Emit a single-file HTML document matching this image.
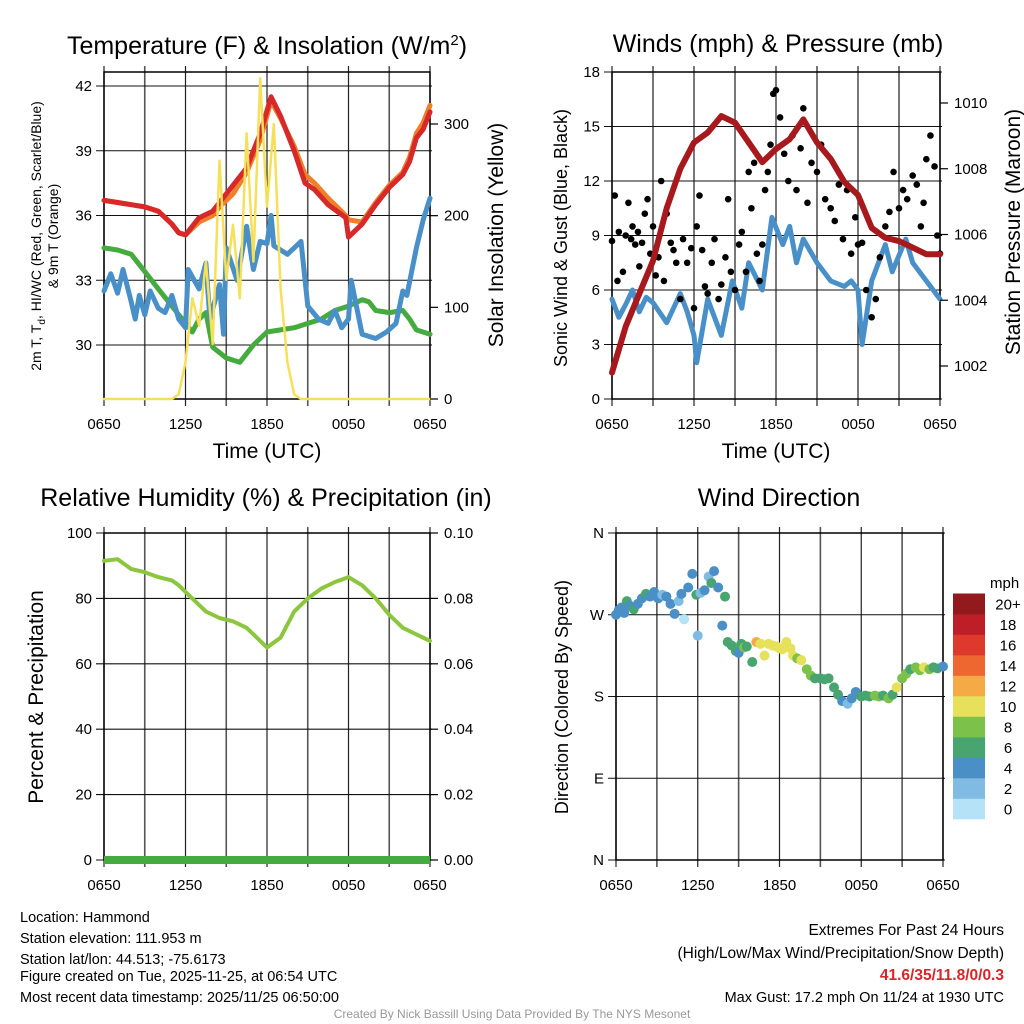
<!DOCTYPE html>
<html><head><meta charset="utf-8"><style>
body{margin:0;background:#fff}
svg{display:block;font-family:"Liberation Sans",sans-serif}
</style></head><body>
<svg id="s" width="1024" height="1024" viewBox="0 0 1024 1024">
<g id="g1"></g>
<g id="g2"></g>
<g id="g3"></g>
<g id="g4"></g>
<g id="txt">
<text x="20" y="922" font-size="14.5">Location: Hammond</text>
<text x="20" y="943" font-size="14.5">Station elevation: 111.953 m</text>
<text x="20" y="964" font-size="14.5">Station lat/lon: 44.513; -75.6173</text>
<text x="20" y="981" font-size="14.5">Figure created on Tue, 2025-11-25, at 06:54 UTC</text>
<text x="20" y="1002" font-size="14.5">Most recent data timestamp: 2025/11/25 06:50:00</text>
<text x="1004" y="935" font-size="15.5" text-anchor="end">Extremes For Past 24 Hours</text>
<text x="1004" y="958" font-size="15.5" text-anchor="end">(High/Low/Max Wind/Precipitation/Snow Depth)</text>
<text x="1004" y="980" font-size="15.5" text-anchor="end" fill="#d8262a" font-weight="bold">41.6/35/11.8/0/0.3</text>
<text x="1004" y="1002" font-size="14.5" text-anchor="end">Max Gust: 17.2 mph On 11/24 at 1930 UTC</text>
<text x="512" y="1018" font-size="12" text-anchor="middle" fill="#999">Created By Nick Bassill Using Data Provided By The NYS Mesonet</text>
</g>
</svg>
<script>
// ---- data (hours after 0650) ----
const xLabels=["0650","1250","1850","0050","0650"];
const tempRed=[36.7,36.6,36.5,36.4,36.2,35.6,35.2,35.1,35.9,36.2,36.6,37.4,38.2,39.8,41.5,40.6,39.0,37.5,37.2,36.5,35.9,35.0,35.6,36.5,37.3,37.9,38.5,39.6,40.0,40.8];
const tempOrange=[36.7,36.6,36.5,36.4,36.2,35.6,35.2,35.1,35.7,36.0,36.4,37.0,38.0,39.5,41.3,40.5,39.2,37.9,37.5,36.8,36.0,35.8,35.7,36.6,37.4,38.0,38.7,39.8,40.3,41.1];
const tempTimes=[0,1,2,3,4,5,5.5,6,7,8,8.5,9.5,10.5,11.5,12.3,13,14,14.8,15.5,16.5,17.8,18,19,20,21,22,22.5,23,23.5,24];
const heatIdx=[32.5,33.3,32.4,33.5,32.0,31.2,32.3,31.4,32.5,31.7,31.5,32.3,31.2,30.8,33.5,32.6,33.8,31.2,32.8,30.5,34.5,33.0,35.5,33.5,34.8,34.7,36.0,34.6,34.2,34.8,31.8,31.2,31.0,31.6,30.8,31.2,33.0,30.5,30.3,30.6,31.0,32.5,32.3,34.5,35.8,36.8];
const heatTimes=[0,0.5,1,1.4,2,2.3,2.6,3,3.4,4,4.5,5,5.5,6,6.2,7,7.5,7.8,8.5,8.8,9,9.8,10.5,11,11.5,12,12.3,12.5,13.5,14.5,15,15.8,16.5,17,17.5,18,18.2,19,20,20.8,21.5,22,22.3,23,23.5,24];
const dewGreen=[34.5,34.4,34.2,33.4,32.6,31.8,31.0,30.6,31.2,31.5,29.9,29.4,29.2,30.0,30.6,30.7,30.8,31.0,31.2,31.6,31.8,32.1,32.0,31.6,31.5,31.6,31.2,30.7,30.5];
const dewTimes=[0,1,2,3,4,5,6,6.5,7,7.5,8,9,10,11,12,13,14,15,16,17,18,19,19.5,20,21,22,22.5,23,24];
const insol=[0,0,0,0,0,0,0,0,0,0,0,5,40,110,80,150,60,260,130,190,110,290,150,350,210,300,120,40,5,0,0,0,0,0,0,0,0,0,0,0,0,0,0,0,0,0,0,0,0];
const windSpd=[5.5,4.5,5.2,6.0,4.8,5.6,5.3,4.2,5.0,5.8,4.8,3.5,2.0,5.5,4.5,3.5,6.5,5.0,7.5,6.0,10.0,8.5,9.5,7.5,8.8,7.5,6.5,6.2,6.5,6.0,3.0,6.5,8.5,7.0,8.8,7.5,6.5,5.5];
const windTimes=[0,0.5,1,1.5,2,2.5,3,4,4.5,5,5.5,6,6.2,7,7.5,8,8.8,9.5,10,11,11.7,12.5,13,13.5,14,15,16,17,17.5,18,18.3,19,20,20.5,21.5,22,23,24];
const gustT=[0,0.2,0.4,0.5,0.8,1,1.2,1.4,1.5,1.7,1.9,2,2.2,2.4,2.6,2.8,3,3.2,3.4,3.6,3.8,4,4.3,4.5,4.7,5,5.2,5.5,5.8,6,6.2,6.4,6.6,6.8,7,7.3,7.5,7.8,8,8.3,8.5,8.7,9,9.3,9.5,9.8,10,10.2,10.4,10.6,10.8,11,11.2,11.4,11.6,11.8,12,12.3,12.6,12.9,13.2,13.5,13.8,14,14.3,14.6,15,15.3,15.6,16,16.3,16.6,16.9,17.2,17.5,17.8,18,18.3,18.6,19,19.3,19.6,20,20.3,20.6,21,21.3,21.6,22,22.3,22.6,22.8,23,23.3,23.6,23.8,24];
const gustV=[8.7,11.2,6.5,9.2,7.0,9.0,10.8,8.8,9.5,8.5,9.2,7.3,8.6,10.2,11.0,8.0,9.5,6.8,7.8,12.0,6.5,10.2,8.6,8.2,7.5,5.5,8.8,7.5,8.3,5.0,9.5,11.2,8.2,6.2,5.8,7.5,8.8,5.5,6.3,7.8,11.0,7.0,6.0,8.5,9.2,7.0,12.5,10.5,13.0,8.0,6.5,8.5,11.5,12.5,14.0,16.8,17.0,15.5,13.5,12.0,14.5,11.5,13.8,16.0,10.8,13.0,12.5,14.0,11.0,10.5,9.8,11.8,8.8,11.5,8.0,10.0,8.5,8.6,6.0,4.5,5.5,7.8,9.5,10.3,12.5,10.5,11.5,11.0,12.3,11.8,9.5,10.8,13.2,14.5,12.8,9.0,8.0];
const presTimes=[0,1,2,3,4,5,6,7,8,9,10,11,12,13,14,15,16,17,18,19,20,21,22,23,24];
const pressure=[1001.8,1003.2,1004.2,1005.2,1006.8,1008.0,1008.8,1009.1,1009.6,1009.4,1008.8,1008.2,1008.6,1008.9,1009.5,1008.8,1008.3,1007.6,1007.2,1006.2,1005.9,1005.8,1005.6,1005.4,1005.4];
const rh=[91.5,92,89,88,86.5,85.5,84,80,76,74,73,71,67,65,68,76,80,83,85,86.5,84,80,75,71,69,67];
const rhTimes=[0,1,2,3,4,5,5.5,6.5,7.5,8.5,9.5,10.5,11.5,12,13,14,15,16,17,18,19,20,21,22,23,24];
const dirT=[0,0.2,0.4,0.6,0.8,1,1.3,1.6,1.9,2.2,2.5,2.8,3.1,3.4,3.7,4,4.3,4.6,4.8,5,5.3,5.6,5.9,6,6.2,6.5,6.8,7,7.2,7.5,7.8,8,8.2,8.5,8.8,9,9.2,9.4,9.6,10,10.3,10.6,10.9,11.2,11.5,11.8,12,12.2,12.5,12.8,13,13.3,13.6,14,14.3,14.6,15,15.3,15.6,16,16.3,16.6,17,17.3,17.6,18,18.3,18.6,19,19.3,19.6,20,20.3,20.6,21,21.3,21.6,22,22.3,22.6,23,23.3,23.6,24];
const dirD=[270,275,278,272,285,280,276,282,288,293,290,295,288,292,290,282,271,285,293,265,300,315,292,247,294,297,312,305,318,300,258,290,240,236,230,228,238,234,235,218,240,238,225,238,236,235,233,232,240,233,225,222,220,210,203,200,200,199,200,190,182,175,172,178,185,180,181,180,181,180,181,178,182,190,200,205,210,212,209,212,210,212,211,213,210];
const dirS=[4,4,4,4,6,4,6,4,4,6,4,4,4,2,4,4,4,2,4,1,4,4,6,3,2,4,3,6,4,4,4,6,6,7,7,4,6,8,7,7,12,10,10,10,10,10,10,10,10,11,10,8,10,8,8,7,6,7,6,6,6,4,2,4,4,6,6,7,8,8,7,8,7,10,8,8,6,8,9,10,8,6,6,4,6];
const spdBins=["0","2","4","6","8","10","12","14","16","18","20+"];
const spdColors=["#b5e2f6","#80bbe4","#4a8fc6","#48a56f","#7cc24a","#e6e05a","#f6aa46","#ee6630","#dd3a2d","#be1e27","#921a1c"];

// ---- helpers ----
const NS="http://www.w3.org/2000/svg";
function mk(p,tag,at,txt){const e=document.createElementNS(NS,tag);for(const k in at)e.setAttribute(k,at[k]);if(txt!=null)e.textContent=txt;p.appendChild(e);return e;}
function xs(x0,x1){return h=>x0+(x1-x0)*h/24;}
function lin(v0,v1,p0,p1){return v=>p0+(v-v0)*(p1-p0)/(v1-v0);}
function frame(g,x0,x1,y0,y1,yVals,ys,labs,name){
  for(let i=0;i<=8;i++){const x=x0+(x1-x0)*i/8;
    const l=mk(g,'line',{x1:x,x2:x,y1:y0-6,y2:y1+7,stroke:i%2?'#555':'#222','stroke-width':i%2?1.6:1.2});
    }
  yVals.forEach((v,i)=>{const y=ys(v);
    const l=mk(g,'line',{x1:x0-8,x2:x1+2,y1:y,y2:y,stroke:'#111','stroke-width':1.1});
    
    const t=mk(g,'text',{x:x0-12,y:y+5,'font-size':15,'text-anchor':'end'},labs[i]);
    });
  const r=mk(g,'rect',{x:x0,y:y0,width:x1-x0,height:y1-y0,fill:'none',stroke:'#000','stroke-width':1.5});
  
  xLabels.forEach((s,i)=>{const t=mk(g,'text',{x:x0+(x1-x0)*i/4,y:y1+30,'font-size':15,'text-anchor':'middle'},s);
    });
}
function line(g,T,V,xf,yf,col,w,name){
  const d=T.map((t,i)=>(i?'L':'M')+xf(t).toFixed(1)+','+yf(V[i]).toFixed(1)).join('');
  const p=mk(g,'path',{d:d,fill:'none',stroke:col,'stroke-width':w,'stroke-linejoin':'round','stroke-linecap':'round'});
  
}
function rtick(g,x,ys,vals,labs){vals.forEach((v,i)=>{const y=ys(v);
  mk(g,'line',{x1:x,x2:x+8,y1:y,y2:y,stroke:'#000','stroke-width':1.2});
  const t=mk(g,'text',{x:x+14,y:y+5,'font-size':15},labs[i]);
  });}
function title(g,x,y,txt,fs,rot,name){const t=mk(g,'text',{x:x,y:y,'font-size':fs,'text-anchor':'middle',transform:rot?`rotate(-90 ${x} ${y})`:''},null);t.innerHTML=txt;
  return t;}

// ---- panel 1 ----
{const g=document.getElementById('g1');const X=xs(104,430);const Y=lin(30,42,345,86);const Yr=lin(0,300,399,124);
frame(g,104,430,72,399,[30,33,36,39,42],Y,["30","33","36","39","42"],'temperature');
line(g,dewTimes,dewGreen,X,Y,'#45ab3f',5,'dewpoint-line');
line(g,heatTimes,heatIdx,X,Y,'#4a90c8',5,'windchill-line');
line(g,tempTimes,tempOrange,X,Y,'#f07f2a',5,'temp-9m-line');
line(g,tempTimes,tempRed,X,Y,'#d7282a',5,'temp-2m-line');
line(g,insol.map((v,i)=>i/2),insol,X,Yr,'#f6e05a',2.5,'insolation-line');
rtick(g,430,Yr,[0,100,200,300],["0","100","200","300"]);
title(g,267,54,'Temperature (F) &amp; Insolation (W/m<tspan dy="-9" font-size="15">2</tspan><tspan dy="9">)</tspan>',25,0,'temperature-title');
title(g,267,458,'Time (UTC)',21,0,'x-axis-title');
title(g,41,236,'2m T, T<tspan dy="4" font-size="10">d</tspan><tspan dy="-4">, HI/WC (Red, Green, Scarlet/Blue)</tspan>',14,1,'y-axis-title');
title(g,58,236,'&amp; 9m T (Orange)',14,1,'y-axis-title-2');
title(g,503,235,'Solar Insolation (Yellow)',21,1,'right-axis-title');}

// ---- panel 2 ----
{const g=document.getElementById('g2');const X=xs(612,940);const Y=lin(0,18,399,72);const Yr=lin(1002,1010,366,103);
frame(g,612,940,72,399,[0,3,6,9,12,15,18],Y,["0","3","6","9","12","15","18"],'winds');
line(g,windTimes,windSpd,X,Y,'#4a90c8',5,'sonic-wind-line');
gustT.forEach((t,i)=>{const c=mk(g,'circle',{cx:X(t),cy:Y(gustV[i]),r:3.3,fill:'#000'});
  });
line(g,presTimes,pressure,X,Yr,'#a8191e',6,'pressure-line');
rtick(g,940,Yr,[1002,1004,1006,1008,1010],["1002","1004","1006","1008","1010"]);
title(g,778,52,'Winds (mph) &amp; Pressure (mb)',25,0,'winds-title');
title(g,776,458,'Time (UTC)',21,0,'x-axis-title');
title(g,567,238,'Sonic Wind &amp; Gust (Blue, Black)',18,1,'y-axis-title');
title(g,1020,232,'Station Pressure (Maroon)',21,1,'right-axis-title');}

// ---- panel 3 ----
{const g=document.getElementById('g3');const X=xs(104,430);const Y=lin(0,100,860,533);const Yr=lin(0,0.1,860,533);
frame(g,104,430,533,860,[0,20,40,60,80,100],Y,["0","20","40","60","80","100"],'humidity');
line(g,rhTimes,rh,X,Y,'#8cc63f',4,'rh-line');
const pz=mk(g,'line',{x1:104,x2:430,y1:860,y2:860,stroke:'#45ab3f','stroke-width':8});

rtick(g,430,Yr,[0,0.02,0.04,0.06,0.08,0.1],["0.00","0.02","0.04","0.06","0.08","0.10"]);
title(g,266,506,'Relative Humidity (%) &amp; Precipitation (in)',25,0,'humidity-title');
title(g,43,697,'Percent &amp; Precipitation',21,1,'y-axis-title');}

// ---- panel 4 ----
{const g=document.getElementById('g4');const X=xs(616,943);const Y=lin(0,360,860,533);
frame(g,616,943,533,860,[360,270,180,90,0],Y,["N","W","S","E","N"],'direction');
function col(s){return spdColors[Math.min(10,Math.floor(s/2))];}
dirT.forEach((t,i)=>{const c=mk(g,'circle',{cx:X(t),cy:Y(dirD[i]),r:5,fill:col(dirS[i])});
  });
title(g,779,506,'Wind Direction',25,0,'direction-title');
title(g,568,697,'Direction (Colored By Speed)',18,1,'y-axis-title');
const lg=mk(g,'g',{});
mk(lg,'text',{x:990,y:588,'font-size':15},'mph');
spdColors.forEach((c,i)=>{const y=819-(i+1)*20.5;
  const r=mk(lg,'rect',{x:953,y:y,width:32,height:20.8,fill:c});
  
  const t=mk(lg,'text',{x:1008,y:y+16,'font-size':15,'text-anchor':'middle'},spdBins[i]);
  });}
</script>
</body></html>
